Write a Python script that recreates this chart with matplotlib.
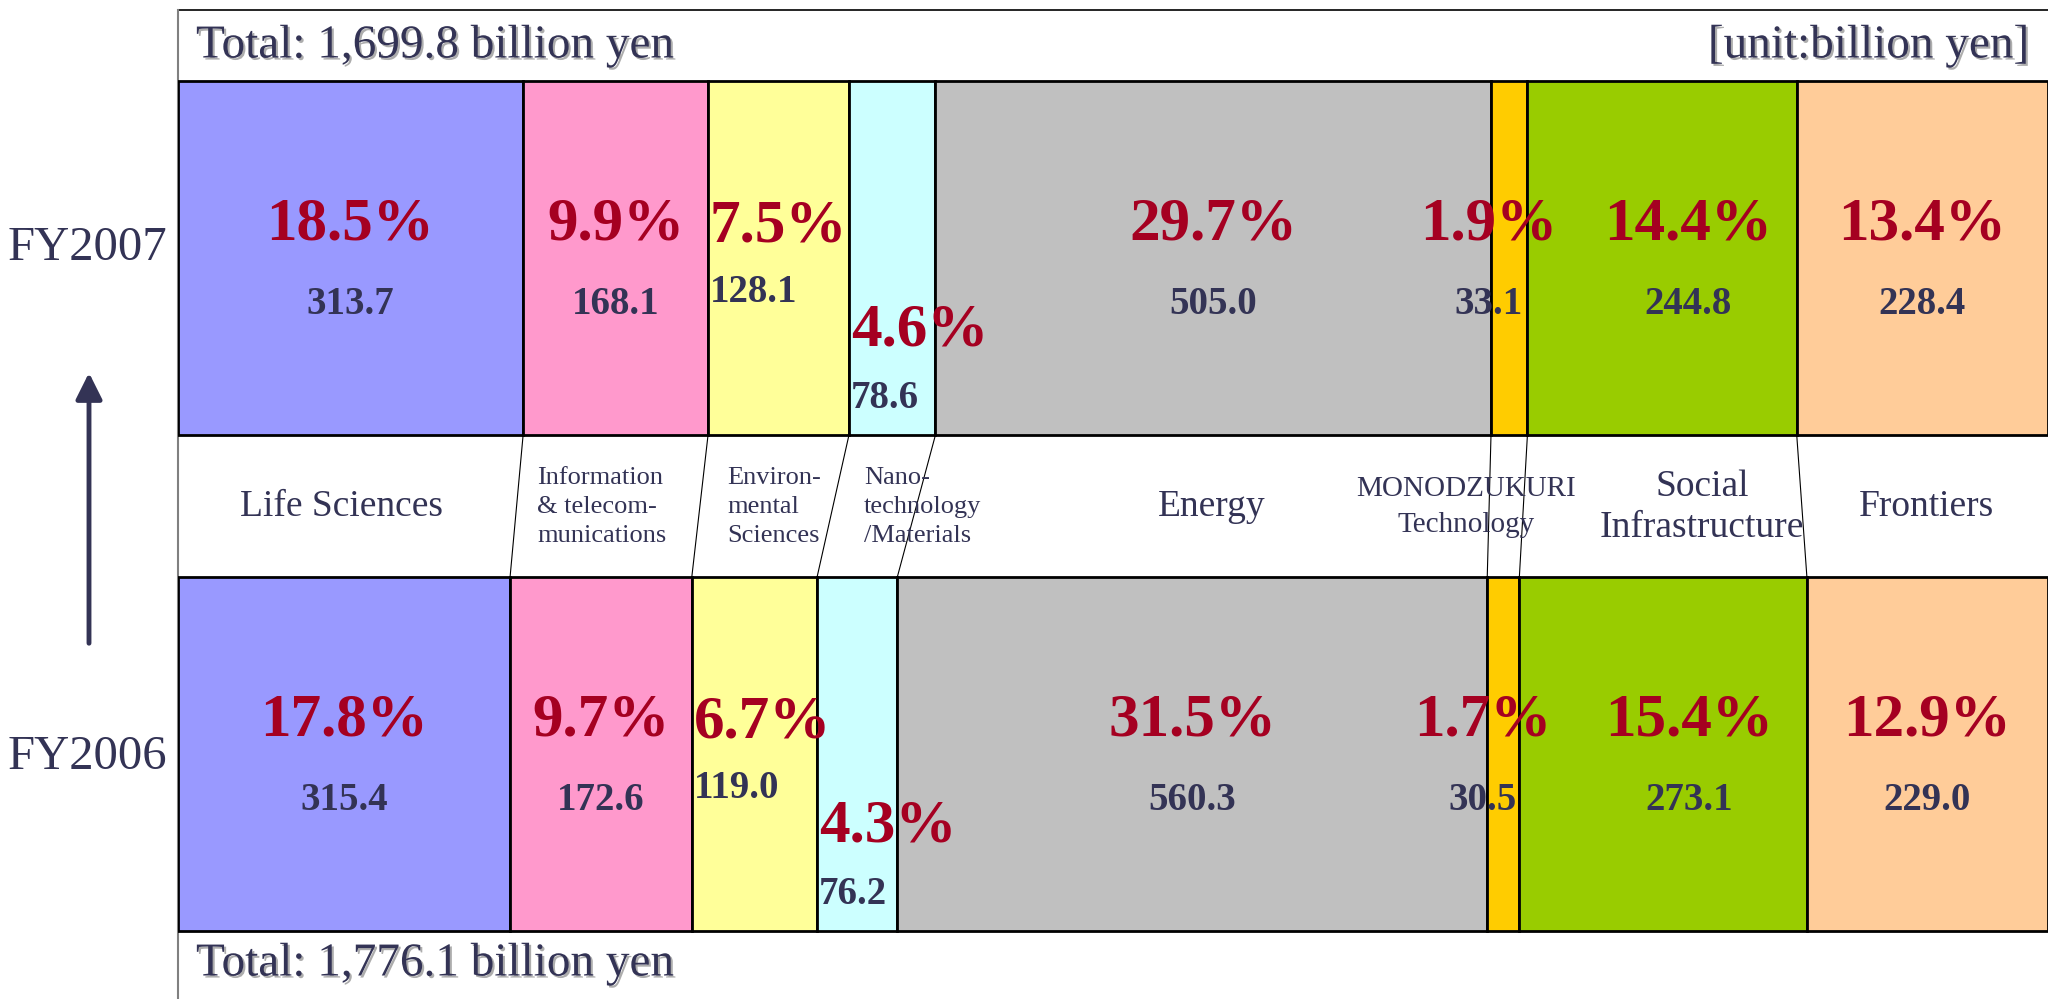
import numpy as np
import matplotlib
matplotlib.use('Agg')
import matplotlib.pyplot as plt
import matplotlib.patheffects as pe

plt.rcParams['font.family'] = ['Liberation Serif', 'DejaVu Serif']

# data
categories = ['Life Sciences', 'Information\n& telecom-\nmunications', 'Environ-\nmental\nSciences',
              'Nano-\ntechnology\n/Materials', 'Energy', 'MONODZUKURI\nTechnology',
              'Social\nInfrastructure', 'Frontiers']
colors = ['#9999FF', '#FF99CC', '#FFFF99', '#CCFFFF', '#C0C0C0', '#FFCC00', '#99CC00', '#FFCC99']
fy2007 = [313.7, 168.1, 128.1, 78.6, 505.0, 33.1, 244.8, 228.4]
fy2006 = [315.4, 172.6, 119.0, 76.2, 560.3, 30.5, 273.1, 229.0]
pct2007 = ['18.5%', '9.9%', '7.5%', '4.6%', '29.7%', '1.9%', '14.4%', '13.4%']
pct2006 = ['17.8%', '9.7%', '6.7%', '4.3%', '31.5%', '1.7%', '15.4%', '12.9%']
years = ['FY2007', 'FY2006']
totals = ['1,699.8', '1,776.1']

# layout (pixels, y from top)
W, H = 2048, 999
X0 = 178
row_top = [81, 577]
row_h = 354
TXT = '#333355'
RED = '#A50021'

def px2x(p):
    return (p - X0) / (W - X0) * 100

fig = plt.figure(figsize=(W / 100, H / 100), dpi=100)
ax = fig.add_axes([X0 / W, 0, 1 - X0 / W, 1])
ax.set_xlim(0, 100)
ax.set_ylim(H, 0)
ax.axis('off')

shadow = [pe.withSimplePatchShadow(offset=(1.5, -1.5), shadow_rgbFace='#999999', alpha=0.8)]

# frame
ax.plot([0, 100], [10, 10], color='black', lw=1.2, clip_on=False)
ax.plot([0, 0], [10, H], color='#808080', lw=1.5, clip_on=False)

dx = [0, 0, 0, 0, 0, -1.1, 1.4, 0]
cums = []
for r, (vals, pcts) in enumerate([(fy2007, pct2007), (fy2006, pct2006)]):
    vals = np.array(vals)
    shares = vals / vals.sum() * 100
    lefts = np.cumsum(shares) - shares
    cums.append(np.cumsum(shares)[:-1])
    top = row_top[r]
    ax.barh(top + row_h / 2, shares, left=lefts, height=row_h, color=colors,
            edgecolor='black', linewidth=2.0, zorder=2)
    for i in range(len(vals)):
        if i == 2:
            x, ha, yp, yv = lefts[i] + 0.1, 'left', top + 145, top + 211
        elif i == 3:
            x, ha, yp, yv = lefts[i] + 0.1, 'left', top + 249, top + 317
        else:
            x, ha, yp, yv = lefts[i] + shares[i] / 2 + dx[i], 'center', top + 143, top + 224
        ax.text(x, yp, pcts[i], ha=ha, va='center', fontsize=44, fontweight='bold',
                color=RED, zorder=4)
        ax.text(x, yv, f'{vals[i]:.1f}', ha=ha, va='center', fontsize=28, fontweight='bold',
                color=TXT, zorder=4)

# connector lines between rows
y_a = row_top[0] + row_h
y_b = row_top[1]
for a, b in zip(cums[0], cums[1]):
    ax.plot([a, b], [y_a, y_b], color='black', lw=0.8, zorder=1)

# category names in the middle band
cat_px = [342, 537, 727, 864, 1212, 1466, 1702, 1926]
cat_ha = ['center', 'left', 'left', 'left', 'center', 'center', 'center', 'center']
cat_size = [27, 19, 19, 19, 27, 21, 27, 27]
cat_ls = [1.2, 1.43, 1.43, 1.43, 1.2, 1.46, 1.26, 1.2]
for i, name in enumerate(categories):
    ax.text(px2x(cat_px[i]), 507, name, ha=cat_ha[i], va='center', multialignment=cat_ha[i],
            fontsize=cat_size[i], color=TXT, linespacing=cat_ls[i], zorder=3)

# totals and unit
ax.text(px2x(196), 46, f'Total: {totals[0]} billion yen', ha='left', va='center',
        fontsize=34, color=TXT, path_effects=shadow)
ax.text(px2x(196), 964, f'Total: {totals[1]} billion yen', ha='left', va='center',
        fontsize=34, color=TXT, path_effects=shadow)
ax.text(px2x(2030), 46, '[unit:billion yen]', ha='right', va='center',
        fontsize=34, color=TXT, path_effects=shadow)

# year labels and arrow
fig.text(167 / W, 1 - 248 / H, years[0], ha='right', va='center', fontsize=35, color=TXT)
fig.text(167 / W, 1 - 757 / H, years[1], ha='right', va='center', fontsize=35, color=TXT)
ax.annotate('', xy=(89, H - 370), xytext=(89, H - 646), xycoords='figure pixels',
            textcoords='figure pixels',
            arrowprops=dict(arrowstyle='-|>', lw=3.5, color=TXT, mutation_scale=40))

fig.savefig('out.png', dpi=100)
